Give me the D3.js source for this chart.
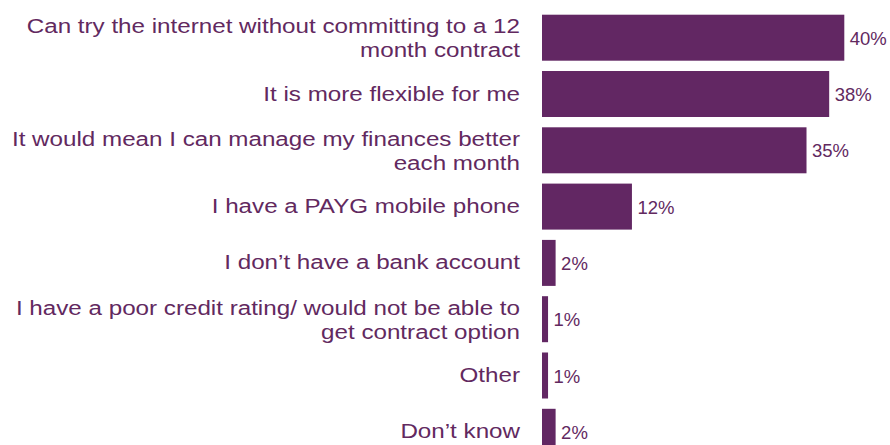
<!DOCTYPE html>
<html>
<head>
<meta charset="utf-8">
<script src="https://cdn.jsdelivr.net/npm/d3@7/dist/d3.min.js"></script>
<style>
  html, body { margin: 0; padding: 0; background: #fff; }
  svg { display: block; }
  text { font-family: "Liberation Sans", Arial, sans-serif; }
</style>
</head>
<body>
<svg id="chart" width="890" height="445"></svg>
<script>
const categories = [
  ["Can try the internet without committing to a 12", "month contract"],
  ["It is more flexible for me"],
  ["It would mean I can manage my finances better", "each month"],
  ["I have a PAYG mobile phone"],
  ["I don\u2019t have a bank account"],
  ["I have a poor credit rating/ would not be able to", "get contract option"],
  ["Other"],
  ["Don\u2019t know"]
];
const values = [40, 38, 35, 11.9, 1.8, 0.8, 0.8, 1.8];
const valueLabels = ["40%", "38%", "35%", "12%", "2%", "1%", "1%", "2%"];

const barColor = "#622763";
const textColor = "#62295f";

const svg = d3.select("#chart");
const x = d3.scaleLinear().domain([0, 40]).range([542, 844.3]);
const y = d3.scaleBand().domain(d3.range(categories.length))
  .range([9.55, 459.95]).paddingInner(0.183).paddingOuter(0.0915);

svg.selectAll("rect.bar").data(values).enter().append("rect")
  .attr("class", "bar")
  .attr("x", x(0))
  .attr("y", (d, i) => y(i))
  .attr("width", d => x(d) - x(0))
  .attr("height", y.bandwidth())
  .attr("fill", barColor);

// value labels
svg.selectAll("text.val").data(values).enter().append("text")
  .attr("class", "val")
  .attr("x", d => x(d) + 5.5)
  .attr("y", (d, i) => y(i) + y.bandwidth() / 2 + 7)
  .attr("fill", textColor)
  .attr("font-size", 18.5)
  .text((d, i) => valueLabels[i]);

// category labels (slightly wide glyphs, as in the reference)
const labelRight = 520;
const sx = 1.152;
categories.forEach((lines, i) => {
  const cy = y(i) + y.bandwidth() / 2;
  const offsets = lines.length === 1 ? [6.5] : [-4.5, 19.5];
  lines.forEach((ln, j) => {
    svg.append("g")
      .attr("transform", `translate(${labelRight},${cy + offsets[j]}) scale(${sx},1)`)
      .append("text")
      .attr("text-anchor", "end")
      .attr("fill", textColor)
      .attr("font-size", 21)
      .text(ln);
  });
});
</script>
</body>
</html>
